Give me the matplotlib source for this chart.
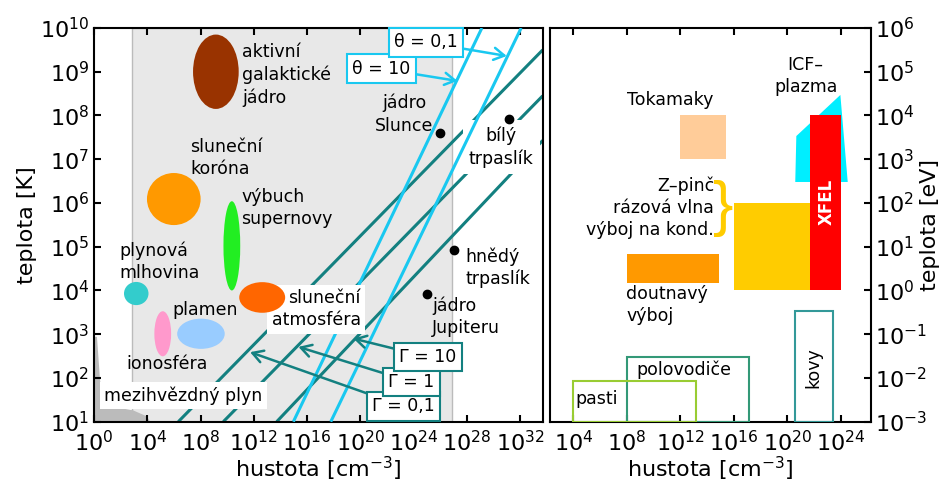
import matplotlib
matplotlib.use("Agg")
import matplotlib.pyplot as plt
from matplotlib.patches import Ellipse, Rectangle, Polygon

plt.rcParams["font.family"] = "DejaVu Sans"
plt.rcParams["mathtext.fontset"] = "dejavusans"

# ---------------- left panel: log10 hustota [cm^-3] vs log10 teplota [K]
xticks_l = [0, 4, 8, 12, 16, 20, 24, 28, 32]
yticks_l = [1, 2, 3, 4, 5, 6, 7, 8, 9, 10]

gray_from, gray_to = 2.88, 26.87          # classical plasma band
ism_n = [0, 0.22, 0.45, 0.83, 2.93, 3.98, 4.2, 0]
ism_T = [2.94, 2.94, 1.95, 1.37, 1.26, 1.12, 1.0, 1.0]

ell_n = [9.15, 5.99, 10.35, 3.17, 5.16, 8.03, 12.63]
ell_T = [9.0, 6.09, 5.02, 3.93, 3.01, 3.01, 3.84]
ell_w = [3.43, 4.03, 1.26, 1.84, 1.26, 3.57, 3.45]
ell_h = [1.70, 1.19, 2.04, 0.53, 1.03, 0.69, 0.70]
ell_col = ["#993300", "#ff9900", "#22ee22", "#33cccc", "#ff99cc", "#99ccff", "#ff6600"]

gamma_lab = ["Γ = 0,1", "Γ = 1", "Γ = 10"]
gamma_n = [[6.33, 33.7], [9.71, 33.7], [13.72, 33.7]]
gamma_T = [[1, 9.5], [1, 8.45], [1, 7.43]]
gamma_box = [(23.27, 1.35), (23.85, 1.91), (25.06, 2.48)]
gamma_tip = [(11.72, 2.59), (15.35, 2.71), (19.48, 2.90)]

theta_lab = ["θ = 10", "θ = 0,1"]
theta_n = [[14.97, 29.13], [17.78, 32.08]]
theta_T = [[1, 10], [1, 10]]
theta_box = [(21.58, 9.07), (24.96, 9.67)]
theta_tip = [(27.3, 8.79), (31.0, 9.36)]

dot_n = [26.0, 31.18, 27.05, 25.0]
dot_T = [7.59, 7.91, 4.92, 3.93]

# ---------------- right panel: log10 hustota vs log10 teplota [eV]
xticks_r = [4, 8, 12, 16, 20, 24]
yticks_r = [-3, -2, -1, 0, 1, 2, 3, 4, 5, 6]

fill_rects = [(12.0, 15.4, 3.0, 4.0), (8.0, 14.9, 0.17, 0.83),
              (16.02, 21.7, 0.0, 2.0), (21.7, 24.0, 0.0, 4.0)]
fill_col = ["#ffcc99", "#ff9900", "#ffcc00", "#ff0000"]
icf_n = [20.58, 20.66, 23.95, 24.5]
icf_T = [2.48, 3.53, 4.47, 2.48]
open_rects = [(20.58, 23.42, -3.0, -0.48), (8.0, 17.1, -3.0, -1.53),
              (3.96, 13.16, -3.0, -2.06)]
open_col = ["#339999", "#339977", "#99cc33"]

teal = "#138080"
cyan = "#19c8f0"
fs = 12.5

fig = plt.figure(figsize=(9.48, 4.87), dpi=100)
ax = fig.add_axes([0.0992, 0.1341, 0.4733, 0.8084])
ax2 = fig.add_axes([0.5802, 0.1341, 0.3386, 0.8084])

ax.set_xlim(0, 33.7)
ax.set_ylim(1, 10)
ax.axvspan(gray_from, gray_to, facecolor="#e8e8e8", edgecolor="#bbbbbb", lw=1, zorder=0)
ax.add_patch(Polygon(list(zip(ism_n, ism_T)), closed=True, facecolor="#bbbbbb",
                     edgecolor="none", zorder=1))

# teal lines sit under the white label boxes, cyan only under "sluneční atmosféra"
for n, T in zip(gamma_n, gamma_T):
    ax.plot(n, T, color=teal, lw=2.2, zorder=2, solid_capstyle="butt")
for n, T in zip(theta_n, theta_T):
    ax.plot(n, T, color=cyan, lw=2.2, zorder=3.5, solid_capstyle="butt")

for x, y, w, h, c in zip(ell_n, ell_T, ell_w, ell_h, ell_col):
    ax.add_patch(Ellipse((x, y), w, h, facecolor=c, edgecolor="none", zorder=5))

ax.plot(dot_n, dot_T, "o", color="black", ms=6, zorder=6)

white = dict(boxstyle="square,pad=0.25", facecolor="white", edgecolor="none")
ax.text(11.12, 8.92, "aktivní\ngalaktické\njádro", fontsize=fs, va="center",
        linespacing=1.3, zorder=7)
ax.text(7.21, 7.03, "sluneční\nkoróna", fontsize=fs, va="center", linespacing=1.3, zorder=7)
ax.text(11.04, 5.88, "výbuch\nsupernovy", fontsize=fs, va="center", linespacing=1.3, zorder=7)
ax.text(1.88, 4.66, "plynová\nmlhovina", fontsize=fs, va="center", linespacing=1.3, zorder=7)
ax.text(5.86, 3.55, "plamen", fontsize=fs, va="center", zorder=7)
ax.text(2.40, 2.33, "ionosféra", fontsize=fs, va="center", zorder=7)
ax.text(0.75, 1.60, "mezihvězdný plyn", fontsize=fs, va="center", bbox=white, zorder=4)
ax.text(20.04, 3.57, "sluneční\natmosféra", fontsize=fs, va="center", ha="right",
        multialignment="right", linespacing=1.3, bbox=white, zorder=4)
ax.text(25.5, 8.03, "jádro\nSlunce", fontsize=fs, va="center", ha="right",
        multialignment="center", linespacing=1.3, zorder=7)
ax.text(30.58, 7.28, "bílý\ntrpaslík", fontsize=fs, va="center", ha="center",
        linespacing=1.3, bbox=dict(boxstyle="square,pad=0.35", facecolor="white",
                                   edgecolor="none"), zorder=3)
ax.text(27.87, 4.52, "hnědý\ntrpaslík", fontsize=fs, va="center", linespacing=1.3, zorder=7)
ax.text(25.4, 3.40, "jádro\nJupiteru", fontsize=fs, va="center", linespacing=1.3, zorder=7)

for lab, box, tip in zip(gamma_lab, gamma_box, gamma_tip):
    ax.annotate(lab, xy=tip, xytext=box, fontsize=fs, ha="center", va="center",
                bbox=dict(boxstyle="square,pad=0.3", facecolor="white", edgecolor=teal, lw=1.5),
                arrowprops=dict(arrowstyle="->,head_length=0.6,head_width=0.35",
                                color=teal, lw=1.8, shrinkA=0, shrinkB=0), zorder=8)
for lab, box, tip in zip(theta_lab, theta_box, theta_tip):
    ax.annotate(lab, xy=tip, xytext=box, fontsize=fs, ha="center", va="center",
                bbox=dict(boxstyle="square,pad=0.3", facecolor="white", edgecolor=cyan, lw=1.5),
                arrowprops=dict(arrowstyle="->,head_length=0.6,head_width=0.35",
                                color=cyan, lw=1.8, shrinkA=0, shrinkB=0), zorder=8)

ax.set_xticks(xticks_l)
ax.set_xticklabels([f"$10^{{{v}}}$" for v in xticks_l])
ax.set_yticks(yticks_l)
ax.set_yticklabels([f"$10^{{{v}}}$" for v in yticks_l])
ax.tick_params(direction="in", length=5, width=1.5, labelsize=16, top=True, right=False)
ax.tick_params(axis="x", pad=6)
ax.set_xlabel("hustota [cm$^{-3}$]", fontsize=16, labelpad=0)
ax.set_ylabel("teplota [K]", fontsize=16, labelpad=2)

# ---------------- right panel
ax2.set_xlim(2.26, 26.24)
ax2.set_ylim(-3, 6)
for (x0, x1, y0, y1), c in zip(fill_rects, fill_col):
    ax2.add_patch(Rectangle((x0, y0), x1 - x0, y1 - y0, facecolor=c, edgecolor="none", zorder=2))
ax2.add_patch(Polygon(list(zip(icf_n, icf_T)), closed=True, facecolor="#00eeff",
                      edgecolor="none", zorder=1))
for (x0, x1, y0, y1), c in zip(open_rects, open_col):
    ax2.add_patch(Rectangle((x0, y0), x1 - x0, y1 - y0, facecolor="none", edgecolor=c,
                            lw=1.5, zorder=3))

ax2.text(11.23, 4.35, "Tokamaky", fontsize=fs, ha="center", va="center")
ax2.text(21.36, 4.90, "ICF–\nplazma", fontsize=fs, ha="center", va="center", linespacing=1.3)
ax2.text(14.51, 1.89, "Z–pinč\nrázová vlna\nvýboj na kond.", fontsize=fs, ha="right",
         va="center", multialignment="right", linespacing=1.3)
ax2.text(15.18, 1.88, "}", fontsize=44, color="#ffcc00", ha="center", va="center",
         family="Liberation Sans")
ax2.text(7.94, -0.34, "doutnavý\nvýboj", fontsize=fs, va="center", linespacing=1.3)
ax2.text(8.69, -1.81, "polovodiče", fontsize=fs, va="center")
ax2.text(4.13, -2.47, "pasti", fontsize=fs, va="center")
ax2.text(21.91, -1.76, "kovy", fontsize=fs, ha="center", va="center", rotation=90)
ax2.text(22.93, 2.02, "XFEL", fontsize=12, fontweight="bold", color="white",
         ha="center", va="center", rotation=90, zorder=4)

ax2.set_xticks(xticks_r)
ax2.set_xticklabels([f"$10^{{{v}}}$" for v in xticks_r])
ax2.set_yticks(yticks_r)
ax2.set_yticklabels([f"$10^{{{v}}}$" for v in yticks_r])
ax2.tick_params(direction="in", length=5, width=1.5, labelsize=16, top=True,
                left=False, right=True, labelleft=False, labelright=True, pad=3)
ax2.tick_params(axis="x", pad=6)
ax2.yaxis.set_label_position("right")
ax2.set_xlabel("hustota [cm$^{-3}$]", fontsize=16, labelpad=0)
ax2.set_ylabel("teplota [eV]", fontsize=16, labelpad=-5)

for a in (ax, ax2):
    for s in a.spines.values():
        s.set_linewidth(1.5)

fig.savefig("out.png", dpi=100)
